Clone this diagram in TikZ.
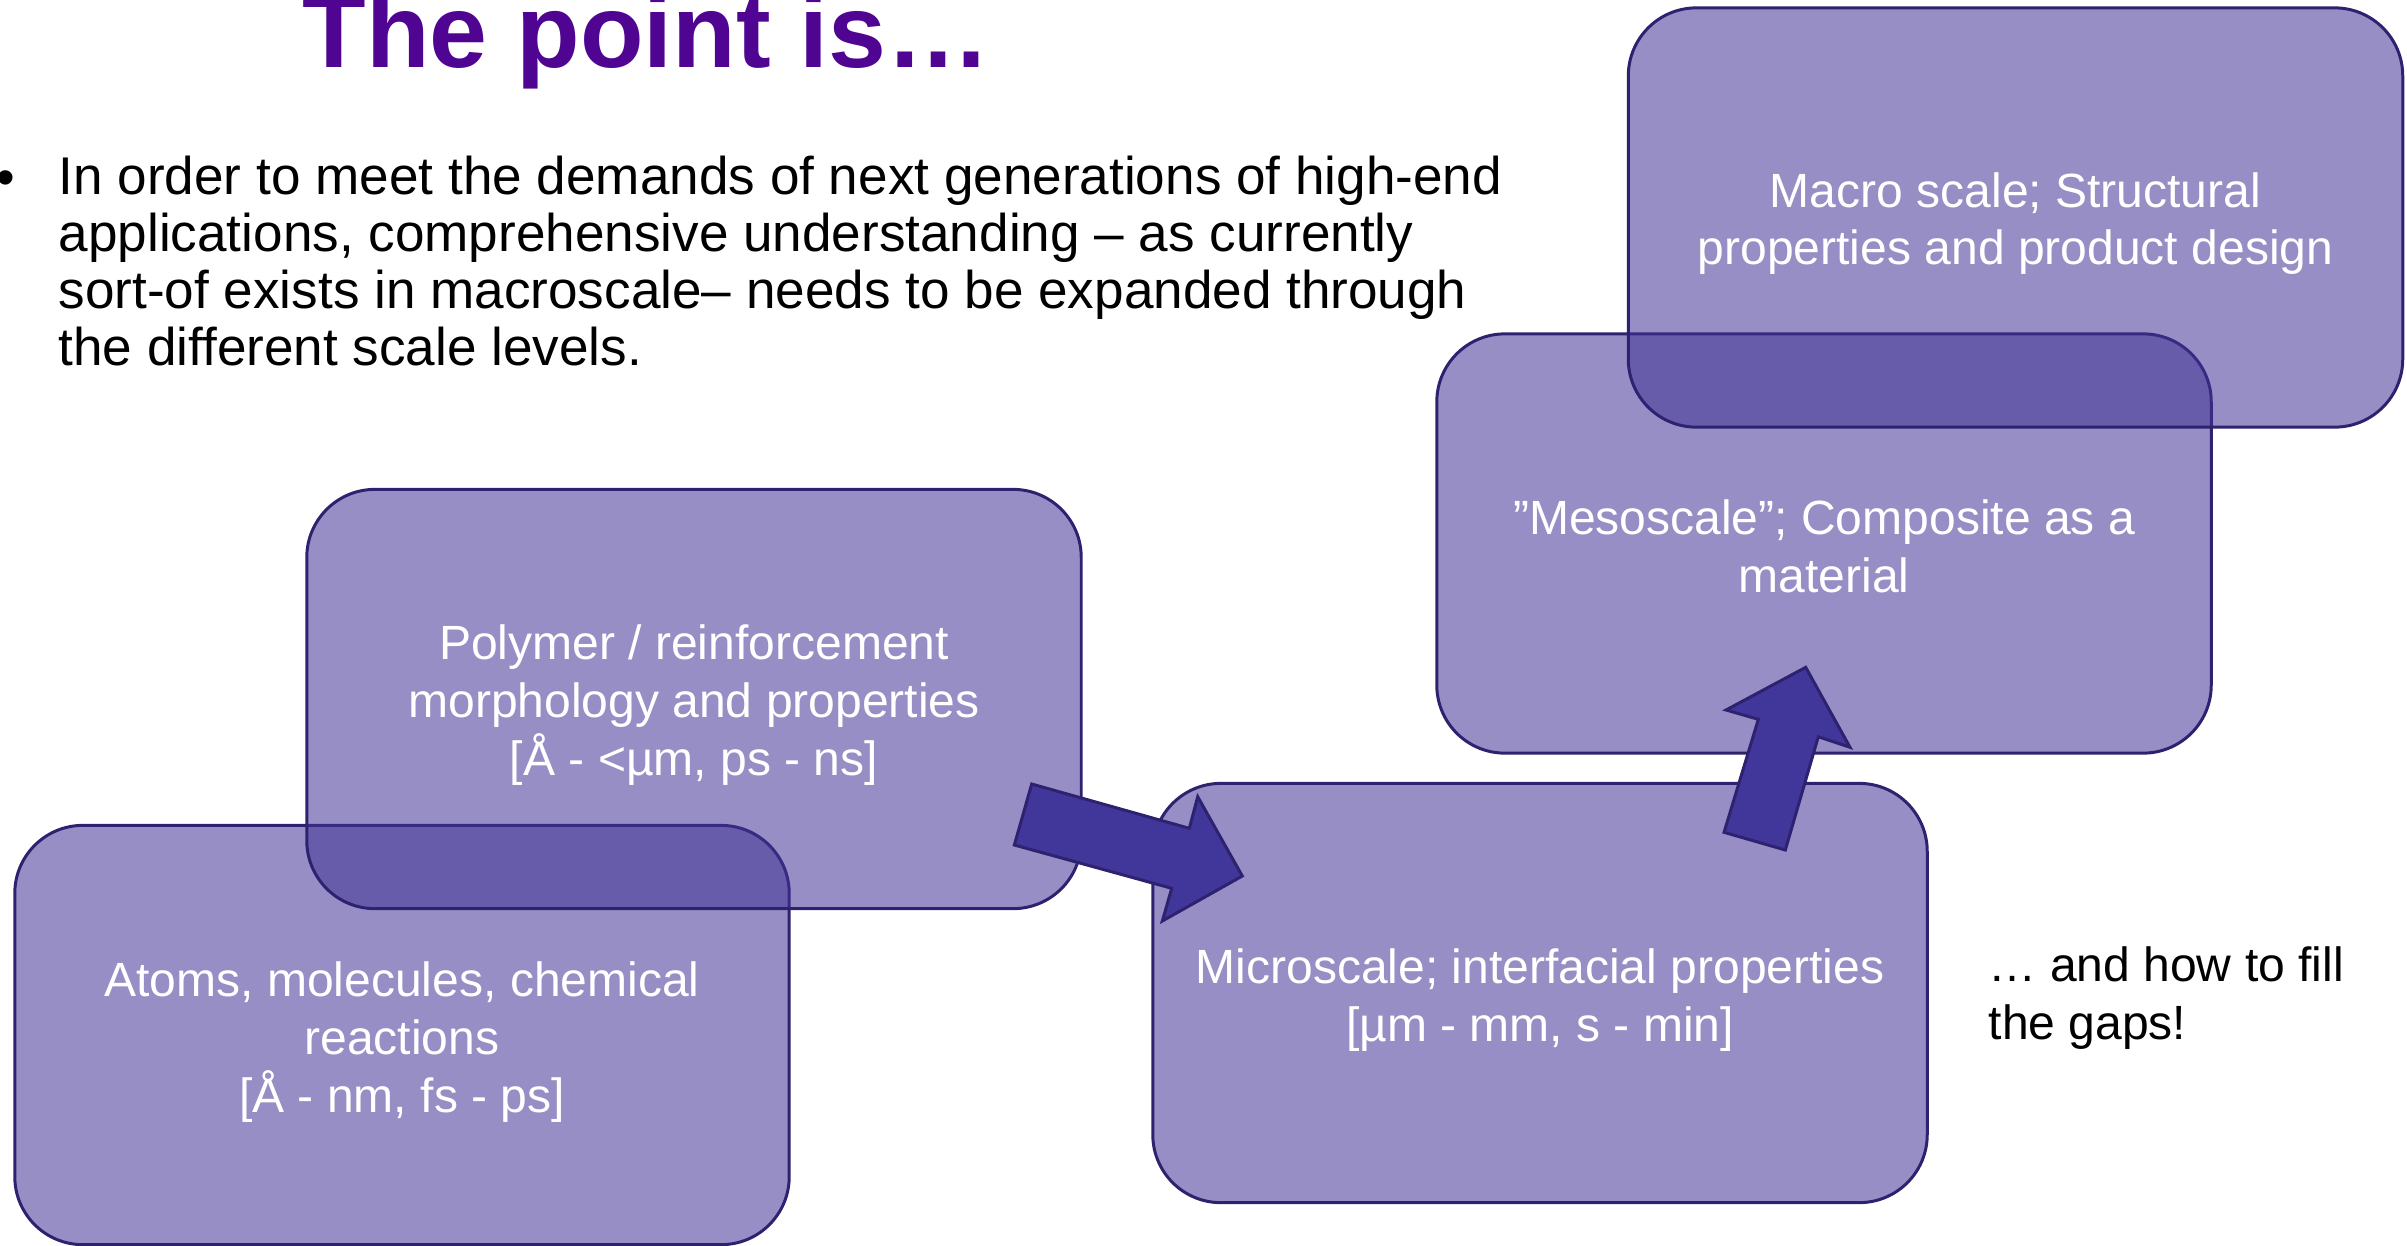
\documentclass[tikz,border=0pt]{standalone}
\usepackage{fontspec}
\setmainfont{Liberation Sans}
\definecolor{boxcol}{RGB}{64,50,148}
\definecolor{arrowcol}{RGB}{65,54,153}
\definecolor{bordercol}{RGB}{46,34,112}
\definecolor{titlecol}{RGB}{80,4,146}
\newcommand{\titlefont}{\fontsize{29.6pt}{34pt}\selectfont\bfseries}
\newcommand{\bulletfont}{\fontsize{15.1pt}{16.2pt}\selectfont}
\newcommand{\boxfont}{\fontsize{13.66pt}{16.4pt}\selectfont}
\tikzset{
  scalebox/.style={draw=bordercol, line width=0.85pt, fill=boxcol, fill opacity=0.55,
    draw opacity=1, rounded corners=0.68cm, minimum width=7.74cm,
    minimum height=4.19cm, inner sep=0pt},
  boxtext/.style={inner sep=0pt, align=center, text=white, font=\boxfont},
  blockarrow/.style={draw=bordercol, line width=0.85pt, fill=arrowcol, line join=miter},
  plaintext/.style={inner sep=0pt, anchor=base west, align=left}
}
\begin{document}
\begin{tikzpicture}[x=0.01cm,y=-0.01cm]
\useasboundingbox (0,0) rectangle (2407,1245);
% title
\node[plaintext, text=titlecol, font=\titlefont] (title) at (302,67) {The point is\ldots};
% bullet
\node[plaintext, font=\bulletfont] (dot) at (-4,195) {•};
\node[plaintext, font=\bulletfont] (bullet) at (58,365)
  {In order to meet the demands of next generations of high-end\\
   applications, comprehensive understanding – as currently\\
   sort-of exists in macroscale– needs to be expanded through\\
   the different scale levels.};
% boxes
\node[scalebox] (atoms) at (402,1035) {};
\node[scalebox] (polymer) at (694,699) {};
\node[scalebox] (micro) at (1540,993) {};
\node[scalebox] (meso) at (1824,543.5) {};
\node[scalebox] (macro) at (2015.5,217.5) {};
% box texts
\node[boxtext] (atomsT) at ([yshift=-0.07cm]atoms.center) {Atoms, molecules, chemical\\reactions\\{[}Å - nm, fs - ps{]}};
\node[boxtext] (polymerT) at ([yshift=-0.06cm]polymer.center) {Polymer / reinforcement\\morphology and properties\\{[}Å - <µm, ps - ns{]}};
\node[boxtext] (microT) at ([yshift=-0.07cm]micro.center) {Microscale; interfacial properties\\{[}µm - mm, s - min{]}};
\node[boxtext] (mesoT) at ([yshift=-0.03cm]meso.center) {”Mesoscale”; Composite as a\\material};
\node[boxtext] (macroT) at ([yshift=-0.06cm]macro.center) {Macro scale; Structural\\properties and product design};
% block arrows
\draw[blockarrow] (1031.7,784) -- (1189.3,828.3) -- (1197.7,796.7) -- (1242.3,876)
  -- (1162.3,921) -- (1171.7,888.3) -- (1014.3,845) -- cycle;
\draw[blockarrow] (1724,832.3) -- (1758.3,719.3) -- (1726,710) -- (1805.7,667.3)
  -- (1850,747.3) -- (1818.3,736.7) -- (1785.3,850) -- cycle;
% side note
\node[plaintext, font=\boxfont] (gaps) at (1988,1039) {… and how to fill\\the gaps!};
\end{tikzpicture}
\end{document}
